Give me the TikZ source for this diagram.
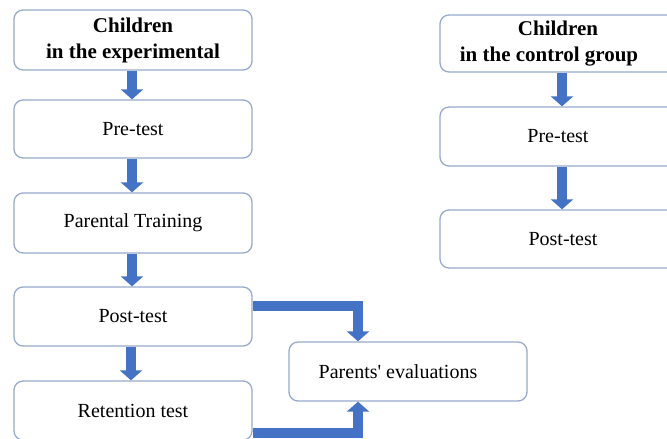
\documentclass[tikz,border=0pt]{standalone}
\usepackage{fontspec}
\setmainfont{Liberation Serif}
\usetikzlibrary{arrows.meta}
\definecolor{boxline}{HTML}{97AACB}
\definecolor{arrowblue}{HTML}{4472C4}
\tikzset{
  stepbox/.style={draw=boxline, line width=1.3pt, rounded corners=9pt, fill=white,
    align=center, inner sep=0pt, font=\fontsize{20}{24}\selectfont},
  titlebox/.style={stepbox, font=\fontsize{21}{26}\selectfont\bfseries},
  flow/.style={draw=arrowblue, line width=10pt,
    -{Triangle[width=22pt,length=10pt]}, arrowblue},
}
\begin{document}
\begin{tikzpicture}[x=1pt,y=-1pt]
\clip (0,0) rectangle (667,439);
\fill[white] (0,0) rectangle (667,439);
% experimental group
\node[titlebox, minimum width=238pt, minimum height=60pt] (e1) at (133,40) {Children\\in the experimental};
\node[stepbox, minimum width=238pt, minimum height=58pt] (e2) at (133,129) {Pre-test};
\node[stepbox, minimum width=238pt, minimum height=60pt] (e3) at (133,223) {Parental Training};
\node[stepbox, minimum width=238pt, minimum height=59pt] (e4) at (133,316.5) {Post-test};
\node[stepbox, minimum width=238pt, minimum height=59pt] (e5) at (133,410.5) {Retention test};
% control group
\node[titlebox, minimum width=240pt, minimum height=57pt] (c1) at (560,43.5) {\hspace*{-4pt}Children\\\hspace*{-22pt}in the control group};
\node[stepbox, minimum width=240pt, minimum height=59pt] (c2) at (560,136.5) {\hspace*{-4pt}Pre-test};
\node[stepbox, minimum width=240pt, minimum height=58pt] (c3) at (560,239) {\hspace*{6pt}Post-test};
% parents
\node[stepbox, minimum width=238pt, minimum height=59pt] (par) at (408,371.5) {\hspace*{-20pt}Parents\textquotesingle{} evaluations};
% arrows
\draw[flow] ([xshift=-1pt]e1.south) -- ([xshift=-1pt]e2.north);
\draw[flow] ([xshift=-1pt]e2.south) -- ([xshift=-1pt]e3.north);
\draw[flow] ([xshift=-1pt]e3.south) -- ([xshift=-1pt]e4.north);
\draw[flow] ([xshift=-2pt]e4.south) -- ([xshift=-2pt]e5.north);
\draw[flow] ([xshift=2pt]c1.south) -- ([xshift=2pt]c2.north);
\draw[flow] ([xshift=2pt]c2.south) -- ([xshift=2pt]c3.north);
\draw[flow] ([yshift=10.5pt]e4.east) -| ([xshift=-50pt]par.north);
\draw[flow] ([yshift=-22.5pt]e5.east) -| ([xshift=-50pt]par.south);
\end{tikzpicture}
\end{document}
